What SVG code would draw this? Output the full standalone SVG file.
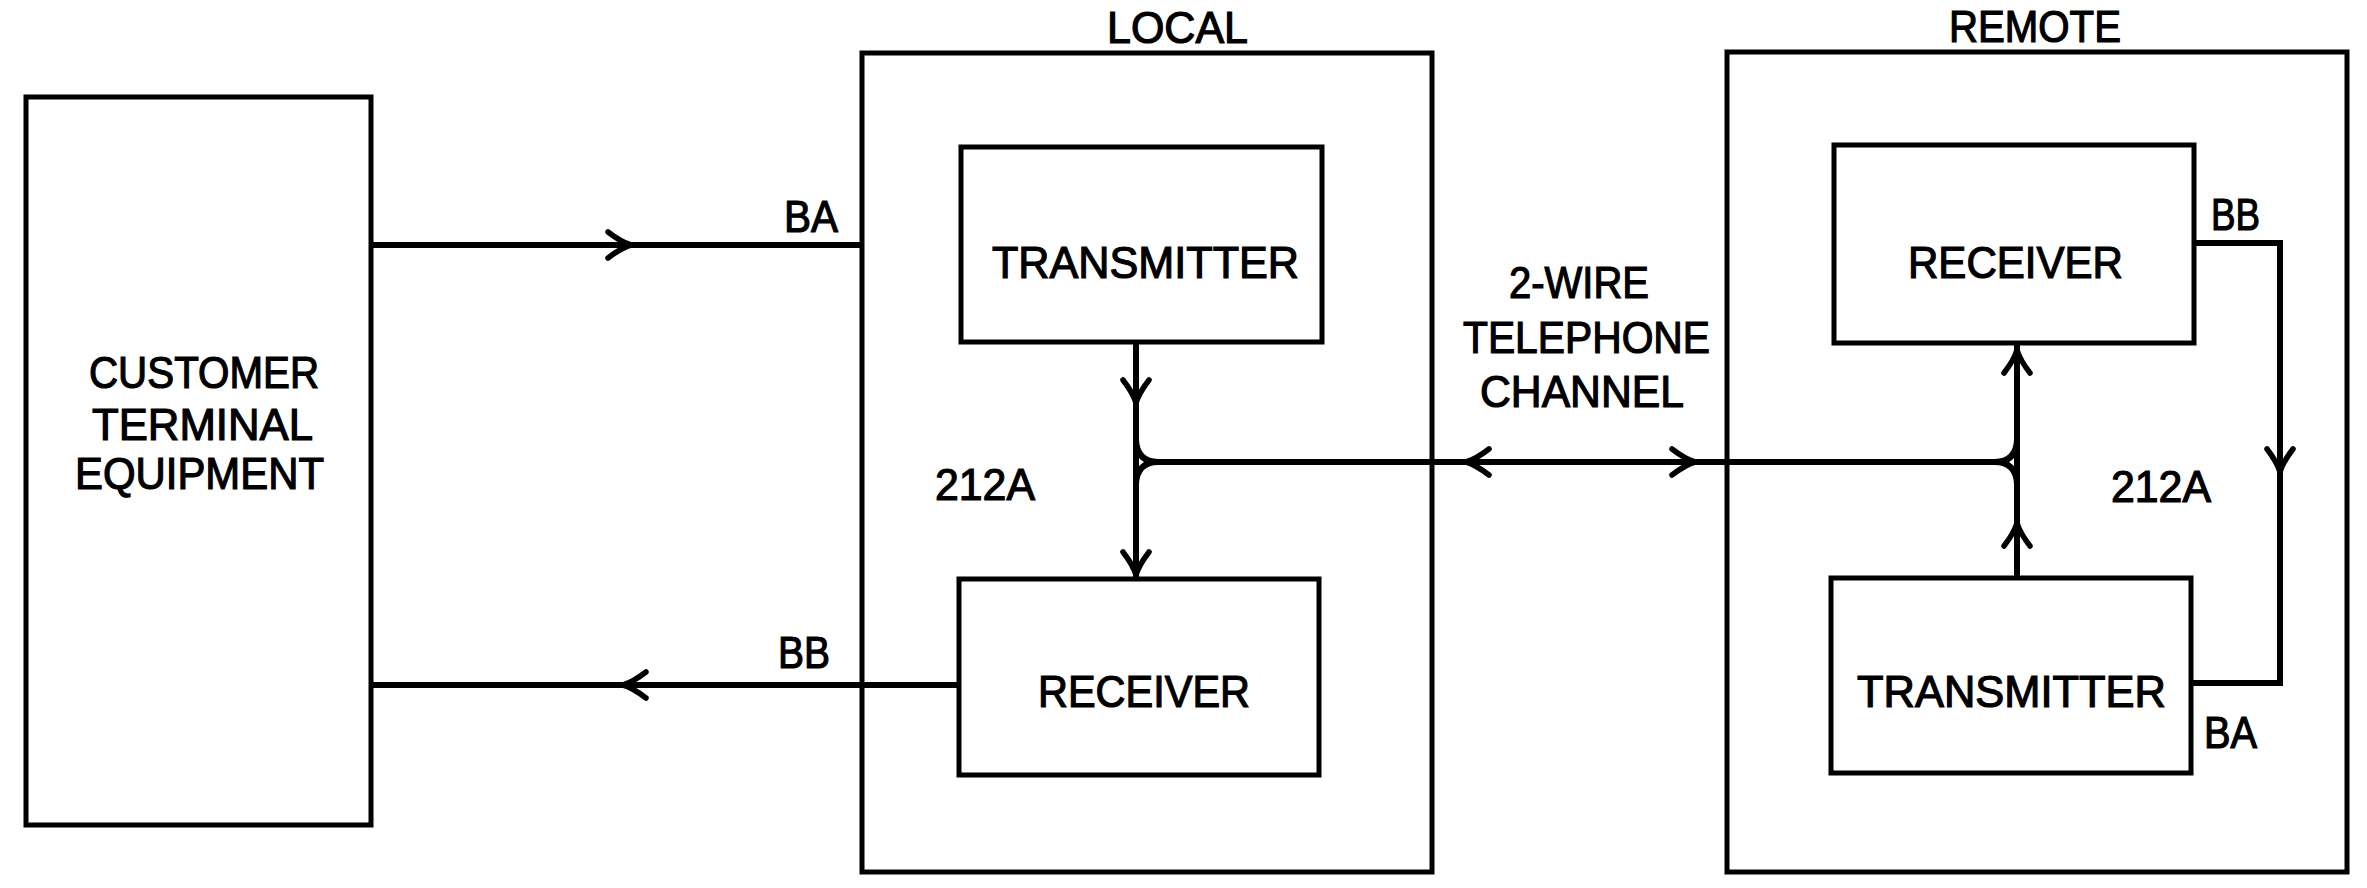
<svg xmlns="http://www.w3.org/2000/svg" xmlns:xlink="http://www.w3.org/1999/xlink" width="2367" height="888" viewBox="0 0 2367 888">
<style>
.box{fill:none;stroke:#000;stroke-width:5;stroke-linejoin:miter}
.ln{fill:none;stroke:#000;stroke-width:6;stroke-linecap:butt}
.ah{fill:none;stroke:#000;stroke-width:5.5;stroke-linecap:round;stroke-linejoin:round}
text{font-family:"Liberation Sans",Arial,sans-serif;font-size:44px;fill:#000;stroke:#000;stroke-width:1.2}
</style>
<defs>
<path id="ah" d="M-23,-13 Q-10,-3 0,0 Q-10,3 -23,13"/>
</defs>
<rect width="2367" height="888" fill="#fff"/>

<g id="customer">
<rect class="box" x="26" y="97" width="345" height="728"/>
<text x="89" y="388" textLength="230" lengthAdjust="spacingAndGlyphs">CUSTOMER</text>
<text x="92" y="440" textLength="221" lengthAdjust="spacingAndGlyphs">TERMINAL</text>
<text x="75" y="489" textLength="249" lengthAdjust="spacingAndGlyphs">EQUIPMENT</text>
</g>

<g id="local">
<rect class="box" x="862" y="53" width="570" height="819"/>
<text x="1107" y="43" textLength="141" lengthAdjust="spacingAndGlyphs">LOCAL</text>
<text x="935" y="500" textLength="100" lengthAdjust="spacingAndGlyphs">212A</text>
</g>

<g id="local-transmitter">
<rect class="box" x="961" y="147" width="361" height="195"/>
<text x="992" y="278" textLength="307" lengthAdjust="spacingAndGlyphs">TRANSMITTER</text>
</g>

<g id="local-receiver">
<rect class="box" x="959" y="579" width="360" height="196"/>
<text x="1038" y="707" textLength="212" lengthAdjust="spacingAndGlyphs">RECEIVER</text>
</g>

<g id="remote">
<rect class="box" x="1727" y="52" width="620" height="820"/>
<text x="1949" y="42" textLength="172" lengthAdjust="spacingAndGlyphs">REMOTE</text>
<text x="2111" y="502" textLength="100" lengthAdjust="spacingAndGlyphs">212A</text>
</g>

<g id="remote-receiver">
<rect class="box" x="1834" y="145" width="360" height="198"/>
<text x="1908" y="278" textLength="215" lengthAdjust="spacingAndGlyphs">RECEIVER</text>
</g>

<g id="remote-transmitter">
<rect class="box" x="1831" y="578" width="360" height="195"/>
<text x="1857" y="707" textLength="309" lengthAdjust="spacingAndGlyphs">TRANSMITTER</text>
</g>

<g id="channel-label">
<text x="1509" y="298" textLength="140" lengthAdjust="spacingAndGlyphs">2-WIRE</text>
<text x="1463" y="353" textLength="247" lengthAdjust="spacingAndGlyphs">TELEPHONE</text>
<text x="1480" y="407" textLength="204" lengthAdjust="spacingAndGlyphs">CHANNEL</text>
</g>

<g id="connectors">
<!-- BA customer -> local -->
<path class="ln" d="M371,245 H862"/>
<use xlink:href="#ah" class="ah" transform="translate(631,245)"/>
<text x="784" y="232" textLength="54" lengthAdjust="spacingAndGlyphs">BA</text>
<!-- BB local receiver -> customer -->
<path class="ln" d="M959,685 H371"/>
<use xlink:href="#ah" class="ah" transform="translate(623,685) rotate(180)"/>
<text x="778" y="668" textLength="52" lengthAdjust="spacingAndGlyphs">BB</text>
<!-- local transmitter -> receiver -->
<path class="ln" d="M1136,342 V579"/>
<use xlink:href="#ah" class="ah" transform="translate(1136,403) rotate(90)"/>
<use xlink:href="#ah" class="ah" transform="translate(1136,575) rotate(90)"/>
<!-- 2-wire channel -->
<path class="ln" d="M1136,440 Q1137,462 1158,462 H1995 Q2016,462 2017,440"/>
<path class="ln" d="M1136,484 Q1137,462 1158,462"/>
<path class="ln" d="M1995,462 Q2016,462 2017,484"/>
<use xlink:href="#ah" class="ah" transform="translate(1466,462) rotate(180)"/>
<use xlink:href="#ah" class="ah" transform="translate(1695,462)"/>
<!-- remote transmitter -> receiver -->
<path class="ln" d="M2017,578 V343"/>
<use xlink:href="#ah" class="ah" transform="translate(2017,523) rotate(-90)"/>
<use xlink:href="#ah" class="ah" transform="translate(2017,350) rotate(-90)"/>
<!-- remote loopback BB -> BA -->
<path class="ln" d="M2194,243 H2280 V683 H2191"/>
<use xlink:href="#ah" class="ah" transform="translate(2280,472) rotate(90)"/>
<text x="2211" y="230" textLength="49" lengthAdjust="spacingAndGlyphs">BB</text>
<text x="2204" y="748" textLength="53" lengthAdjust="spacingAndGlyphs">BA</text>
</g>
</svg>
